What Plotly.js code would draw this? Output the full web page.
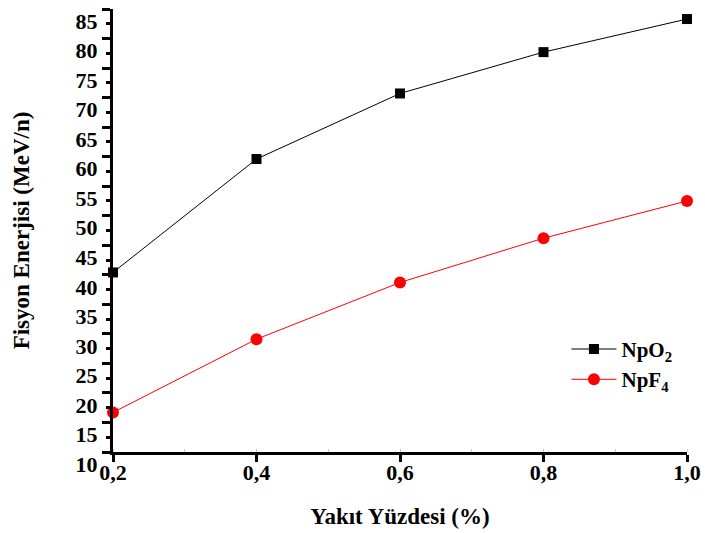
<!DOCTYPE html>
<html>
<head>
<meta charset="utf-8">
<script src="https://cdn.plot.ly/plotly-3.0.1.min.js"></script>
<style>html,body{margin:0;padding:0;background:#fff;}#chart{width:705px;height:533px;}</style>
</head>
<body>
<div id="chart"></div>
<script>
const fuelPercent = [0.2, 0.4, 0.6, 0.8, 1.0];
const npo2 = [40.4, 59.6, 70.7, 77.7, 83.3];
const npf4 = [16.7, 29.1, 38.7, 46.2, 52.5];
const xTickVals = [0.2, 0.4, 0.6, 0.8, 1.0];
const xTickText = ['0,2', '0,4', '0,6', '0,8', '1,0'];
const yTickVals = [10, 15, 20, 25, 30, 35, 40, 45, 50, 55, 60, 65, 70, 75, 80, 85];
const yTickText = yTickVals.map(String);

const fam = '"Liberation Serif", "Times New Roman", serif';
const tickFont = {family: fam, size: 22, color: '#000', weight: 700};
const titleFont = {family: fam, size: 23, color: '#000', weight: 700};
const legendFont = {family: fam, size: 21, color: '#000', weight: 700};

const traces = [
  {x: fuelPercent, y: npo2, name: 'NpO<sub>2</sub>', mode: 'lines+markers',
   line: {color: '#000', width: 1}, marker: {symbol: 'square', size: 10, color: '#000'}, cliponaxis: false},
  {x: fuelPercent, y: npf4, name: 'NpF<sub>4</sub>', mode: 'lines+markers',
   line: {color: '#ff0000', width: 1}, marker: {symbol: 'circle', size: 12, color: '#ff0000'}, cliponaxis: false}
];

const layout = {
  width: 705, height: 533,
  margin: {l: 113, r: 18, t: 9, b: 81},
  paper_bgcolor: '#fff', plot_bgcolor: '#fff',
  font: tickFont,
  showlegend: true,
  legend: {x: 0.79, y: 0.278, xanchor: 'left', yanchor: 'top', bgcolor: 'rgba(0,0,0,0)',
           font: legendFont, itemwidth: 45, tracegroupgap: 0},
  xaxis: {
    range: [0.2, 1.0], tickvals: xTickVals, ticktext: xTickText,
    showgrid: false, zeroline: false, showline: true, linecolor: '#000', linewidth: 3,
    ticks: 'outside', ticklen: 7, tickwidth: 3, tickcolor: '#000',
    minor: {dtick: 0.1, ticks: 'inside', ticklen: 3, tickwidth: 1, tickcolor: '#ccc', showgrid: false},
    ticklabelstandoff: -8,
    tickfont: tickFont,
    title: {text: 'Yakıt Yüzdesi (%)', font: titleFont, standoff: 24}
  },
  yaxis: {
    range: [10, 85], tickvals: yTickVals, ticktext: yTickText,
    showgrid: false, zeroline: false, showline: true, linecolor: '#000', linewidth: 3,
    ticks: 'outside', ticklen: 8, tickwidth: 3, tickcolor: '#000',
    minor: {dtick: 2.5, ticks: 'outside', ticklen: 4, tickwidth: 3, tickcolor: '#000', showgrid: false},
    ticklabelshift: 12,
    tickfont: tickFont,
    title: {text: 'Fisyon Enerjisi (MeV/n)', font: titleFont, standoff: 40}
  }
};

Plotly.newPlot('chart', traces, layout, {displayModeBar: false, staticPlot: true});
</script>
</body>
</html>
